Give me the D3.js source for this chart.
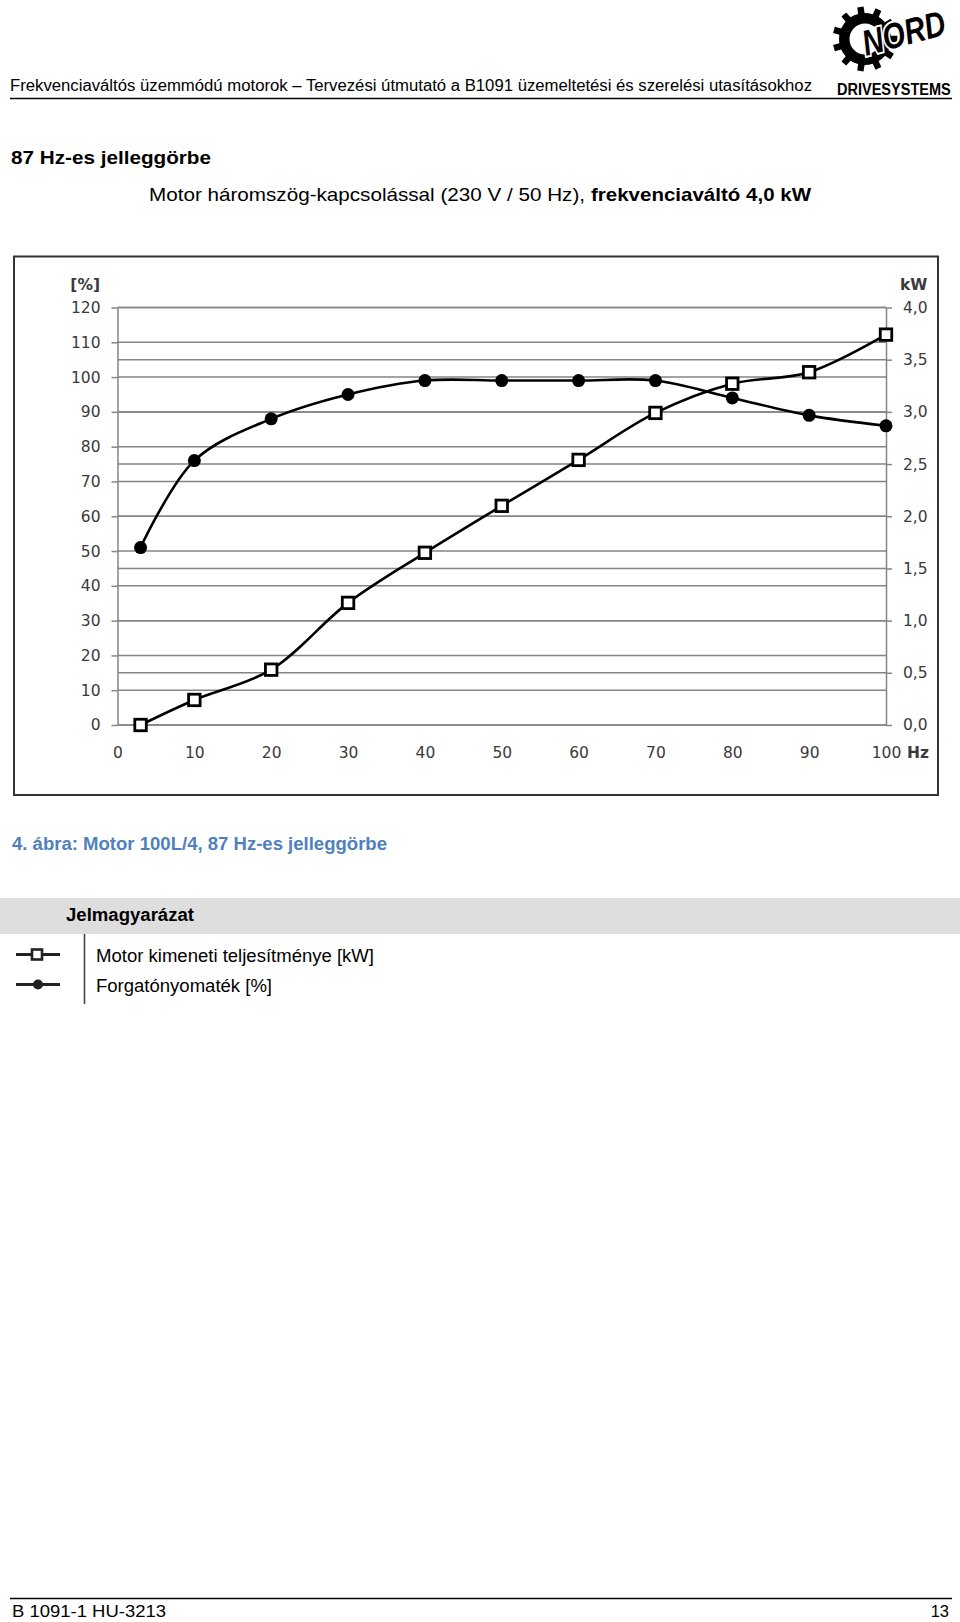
<!DOCTYPE html>
<html>
<head>
<meta charset="utf-8">
<script src="https://cdn.jsdelivr.net/npm/d3@7/dist/d3.min.js"></script>
<style>
  html, body { margin: 0; padding: 0; background: #fff; }
  svg { display: block; }
</style>
</head>
<body>
<svg id="page" width="960" height="1622"></svg>
<script>
// ---------- DATA ----------
const frequencyHz = [3, 10, 20, 30, 40, 50, 60, 70, 80, 90, 100];
const torquePct   = [51, 76, 88, 95, 99, 99, 99, 99, 94, 89, 86];
const powerKW     = [0, 0.24, 0.53, 1.17, 1.65, 2.10, 2.54, 2.99, 3.27, 3.38, 3.74];

const xTicks   = [0, 10, 20, 30, 40, 50, 60, 70, 80, 90, 100];
const pctTicks = [0, 10, 20, 30, 40, 50, 60, 70, 80, 90, 100, 110, 120];
const kwTicks  = [0, 0.5, 1.0, 1.5, 2.0, 2.5, 3.0, 3.5, 4.0];

const headerText   = "Frekvenciaváltós üzemmódú motorok  – Tervezési útmutató a B1091 üzemeltetési és szerelési utasításokhoz";
const sectionTitle = "87 Hz-es jelleggörbe";
const subtitleA    = "Motor háromszög-kapcsolással (230 V / 50 Hz),";
const subtitleB    = "frekvenciaváltó 4,0 kW";
const captionText  = "4. ábra: Motor 100L/4, 87 Hz-es jelleggörbe";
const legendTitle  = "Jelmagyarázat";
const legendItems  = ["Motor kimeneti teljesítménye [kW]", "Forgatónyomaték [%]"];
const footerLeft   = "B 1091-1 HU-3213";
const footerRight  = "13";

// ---------- PAGE ----------
const svg = d3.select("#page");
const sans = "'Liberation Sans', Arial, sans-serif";
const chartFont = "'DejaVu Sans', Verdana, sans-serif";

svg.append("rect").attr("width", 960).attr("height", 1622).attr("fill", "#fff");

// header text and rule
svg.append("text").attr("x", 10).attr("y", 91)
  .attr("font-family", sans).attr("font-size", 16).attr("fill", "#000")
  .attr("textLength", 802).attr("lengthAdjust", "spacingAndGlyphs")
  .text(headerText);
svg.append("line").attr("x1", 10).attr("x2", 952).attr("y1", 98.5).attr("y2", 98.5)
  .attr("stroke", "#000").attr("stroke-width", 1.6);

// NORD logo
const logo = svg.append("g");
(function gear() {
  const cx = 865, cy = 39, rOut = 32.5, rRoot = 26, teeth = 11;
  const pts = [];
  for (let i = 0; i < teeth; i++) {
    const a0 = (i / teeth) * 2 * Math.PI;
    const w = (2 * Math.PI / teeth);
    const seq = [[a0 - w * 0.5, rRoot], [a0 - w * 0.22, rRoot], [a0 - w * 0.17, rOut], [a0 + w * 0.17, rOut], [a0 + w * 0.22, rRoot]];
    seq.forEach(([a, r]) => pts.push([cx + r * Math.cos(a), cy + r * Math.sin(a)]));
  }
  logo.append("path").attr("d", d3.line()(pts) + "Z").attr("fill", "#000");
  logo.append("circle").attr("cx", cx).attr("cy", cy).attr("r", 15.5).attr("fill", "#fff");
  logo.append("text")
    .attr("transform", "translate(866,56) rotate(-15) scale(0.8,1)")
    .attr("font-family", sans).attr("font-weight", "bold").attr("font-style", "italic")
    .attr("font-size", 36).attr("fill", "#000").attr("stroke", "#fff").attr("stroke-width", 4)
    .attr("paint-order", "stroke")
    .text("NORD");
  logo.append("text")
    .attr("transform", "translate(837,94.5) scale(0.855,1)")
    .attr("font-family", sans).attr("font-weight", "bold").attr("font-size", 17).attr("fill", "#000")
    .text("DRIVESYSTEMS");
})();

// section title and subtitle
svg.append("text").attr("x", 11).attr("y", 163.5)
  .attr("font-family", sans).attr("font-weight", "bold").attr("font-size", 19).attr("fill", "#000")
  .attr("textLength", 200).attr("lengthAdjust", "spacingAndGlyphs")
  .text(sectionTitle);
svg.append("text").attr("x", 149).attr("y", 200.5)
  .attr("font-family", sans).attr("font-size", 18.5).attr("fill", "#000")
  .attr("textLength", 436).attr("lengthAdjust", "spacingAndGlyphs")
  .text(subtitleA);
svg.append("text").attr("x", 591).attr("y", 200.5)
  .attr("font-family", sans).attr("font-weight", "bold").attr("font-size", 18.5).attr("fill", "#000")
  .attr("textLength", 220).attr("lengthAdjust", "spacingAndGlyphs")
  .text(subtitleB);

// ---------- CHART ----------
svg.append("rect").attr("x", 14).attr("y", 256.5).attr("width", 924).attr("height", 538.5)
  .attr("fill", "#fff").attr("stroke", "#333").attr("stroke-width", 2);

const x0 = 117.5, x1 = 886, yTop = 307.5, yBot = 725;
const x = d3.scaleLinear().domain([0, 100]).range([x0, x1]);
const yPct = d3.scaleLinear().domain([0, 120]).range([yBot, yTop]);
const yKW = d3.scaleLinear().domain([0, 4]).range([yBot, yTop]);

const gridColor = "#858585";
const grid = svg.append("g");
pctTicks.forEach(t => grid.append("line")
  .attr("x1", x0).attr("x2", x1).attr("y1", yPct(t)).attr("y2", yPct(t))
  .attr("stroke", gridColor).attr("stroke-width", 1.5));
kwTicks.forEach(t => grid.append("line")
  .attr("x1", x0).attr("x2", x1).attr("y1", yKW(t)).attr("y2", yKW(t))
  .attr("stroke", gridColor).attr("stroke-width", 1.5));

const tickColor = "#3a3a3a";
const tickSize = 15.5;
function styleAxis(g) {
  g.selectAll(".domain").attr("stroke", gridColor).attr("stroke-width", 1.5);
  g.selectAll(".tick line").attr("stroke", gridColor).attr("stroke-width", 1.5);
  g.selectAll(".tick text").attr("fill", tickColor)
    .attr("font-family", chartFont).attr("font-size", tickSize);
}

svg.append("g").attr("transform", `translate(${x0},0)`)
  .call(d3.axisLeft(yPct).tickValues(pctTicks).tickSize(6).tickSizeOuter(0).tickPadding(11))
  .call(styleAxis);

const kwFmt = v => d3.format(".1f")(v).replace(".", ",");
svg.append("g").attr("transform", `translate(${x1},0)`)
  .call(d3.axisRight(yKW).tickValues(kwTicks).tickFormat(kwFmt).tickSize(6).tickSizeOuter(0).tickPadding(11))
  .call(styleAxis);

svg.append("g").attr("transform", `translate(0,${yBot})`)
  .call(d3.axisBottom(x).tickValues(xTicks).tickSize(0).tickPadding(22))
  .call(styleAxis)
  .call(g => g.select(".domain").remove());

// unit labels
svg.append("text").attr("x", 100).attr("y", 290).attr("text-anchor", "end")
  .attr("font-family", chartFont).attr("font-weight", "bold").attr("font-size", tickSize).attr("fill", tickColor)
  .text("[%]");
svg.append("text").attr("x", 900).attr("y", 290)
  .attr("font-family", chartFont).attr("font-weight", "bold").attr("font-size", tickSize).attr("fill", tickColor)
  .text("kW");
svg.append("text").attr("x", 907).attr("y", 758)
  .attr("font-family", chartFont).attr("font-weight", "bold").attr("font-size", tickSize).attr("fill", tickColor)
  .text("Hz");

// series
const curve = d3.curveCatmullRom.alpha(0.5);
const torqueData = frequencyHz.map((f, i) => ({ f, v: torquePct[i] }));
const powerData = frequencyHz.map((f, i) => ({ f, v: powerKW[i] }));

svg.append("path").datum(torqueData)
  .attr("d", d3.line().x(d => x(d.f)).y(d => yPct(d.v)).curve(curve))
  .attr("fill", "none").attr("stroke", "#000").attr("stroke-width", 2.6);
svg.append("path").datum(powerData)
  .attr("d", d3.line().x(d => x(d.f)).y(d => yKW(d.v)).curve(curve))
  .attr("fill", "none").attr("stroke", "#000").attr("stroke-width", 2.6);

svg.append("g").selectAll("circle").data(torqueData).join("circle")
  .attr("cx", d => x(d.f)).attr("cy", d => yPct(d.v)).attr("r", 6.5).attr("fill", "#000");
const sq = 11.5;
svg.append("g").selectAll("rect").data(powerData).join("rect")
  .attr("x", d => x(d.f) - sq / 2).attr("y", d => yKW(d.v) - sq / 2)
  .attr("width", sq).attr("height", sq)
  .attr("fill", "#fff").attr("stroke", "#000").attr("stroke-width", 2.8);

// ---------- CAPTION ----------
svg.append("text").attr("x", 12).attr("y", 850)
  .attr("font-family", sans).attr("font-weight", "bold").attr("font-size", 17.5).attr("fill", "#4f81bd")
  .attr("textLength", 375).attr("lengthAdjust", "spacingAndGlyphs")
  .text(captionText);

// ---------- LEGEND ----------
svg.append("rect").attr("x", 0).attr("y", 898).attr("width", 960).attr("height", 36).attr("fill", "#dedede");
svg.append("text").attr("x", 66).attr("y", 921)
  .attr("font-family", sans).attr("font-weight", "bold").attr("font-size", 17.5).attr("fill", "#000")
  .attr("textLength", 128).attr("lengthAdjust", "spacingAndGlyphs")
  .text(legendTitle);
svg.append("line").attr("x1", 84.5).attr("x2", 84.5).attr("y1", 934).attr("y2", 1004)
  .attr("stroke", "#444").attr("stroke-width", 1.6);

const legY = [954.5, 984.5];
const legLen = [278, 176];
legendItems.forEach((txt, i) => {
  const g = svg.append("g");
  g.append("line").attr("x1", 16).attr("x2", 60).attr("y1", legY[i]).attr("y2", legY[i])
    .attr("stroke", "#222").attr("stroke-width", 3);
  if (i === 0) {
    g.append("rect").attr("x", 32).attr("y", legY[i] - 5).attr("width", 10).attr("height", 10)
      .attr("fill", "#fff").attr("stroke", "#222").attr("stroke-width", 2.6);
  } else {
    g.append("circle").attr("cx", 38).attr("cy", legY[i]).attr("r", 5).attr("fill", "#222");
  }
  svg.append("text").attr("x", 96).attr("y", legY[i] + 7)
    .attr("font-family", sans).attr("font-size", 17.5).attr("fill", "#000")
    .attr("textLength", legLen[i]).attr("lengthAdjust", "spacingAndGlyphs")
    .text(txt);
});

// ---------- FOOTER ----------
svg.append("line").attr("x1", 10).attr("x2", 952).attr("y1", 1598.5).attr("y2", 1598.5)
  .attr("stroke", "#000").attr("stroke-width", 1.6);
svg.append("text").attr("x", 12).attr("y", 1617)
  .attr("font-family", sans).attr("font-size", 16.5).attr("fill", "#000")
  .attr("textLength", 154).attr("lengthAdjust", "spacingAndGlyphs")
  .text(footerLeft);
svg.append("text").attr("x", 949).attr("y", 1617).attr("text-anchor", "end")
  .attr("font-family", sans).attr("font-size", 16.5).attr("fill", "#000")
  .text(footerRight);
</script>
</body>
</html>
